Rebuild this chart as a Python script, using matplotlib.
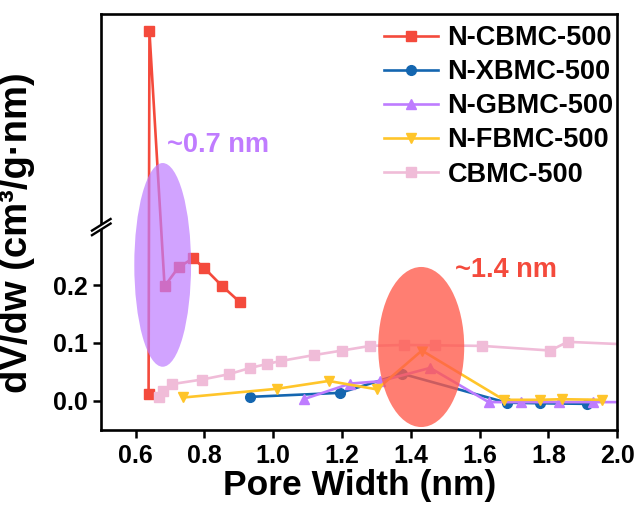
import numpy as np
import matplotlib
matplotlib.use("Agg")
import matplotlib.pyplot as plt
from matplotlib.patches import Ellipse, Polygon

plt.rcParams['font.family'] = ['Liberation Sans', 'DejaVu Sans']
plt.rcParams['font.weight'] = 'bold'

# pore size distributions (pore width in nm, dV/dw in cm3/g/nm)
x_ncbmc = [0.6375, 0.640, 0.684, 0.725, 0.767, 0.800, 0.850, 0.902]
y_ncbmc = [0.0115, 1.22, 0.198, 0.231, 0.246, 0.229, 0.199, 0.171]

x_nxbmc = [0.931, 1.195, 1.374, 1.679, 1.776, 1.912]
y_nxbmc = [0.007, 0.014, 0.047, -0.003, -0.004, -0.005]

x_ngbmc = [1.088, 1.224, 1.310, 1.456, 1.626, 1.72, 1.83, 1.93, 2.05]
y_ngbmc = [0.003, 0.030, 0.034, 0.057, -0.002, -0.002, -0.002, -0.002, -0.002]

x_nfbmc = [0.739, 1.011, 1.161, 1.301, 1.432, 1.670, 1.776, 1.839, 1.955]
y_nfbmc = [0.006, 0.021, 0.0345, 0.020, 0.087, 0.002, 0.002, 0.003, 0.002]

x_cbmc = [0.667, 0.678, 0.705, 0.793, 0.870, 0.933, 0.983, 1.022, 1.117,
          1.200, 1.282, 1.379, 1.470, 1.607, 1.805, 1.856, 2.05]
y_cbmc = [0.006, 0.017, 0.029, 0.037, 0.046, 0.057, 0.064, 0.069, 0.079,
          0.087, 0.095, 0.0966, 0.096, 0.095, 0.087, 0.102, 0.097]

labels = ['N-CBMC-500', 'N-XBMC-500', 'N-GBMC-500', 'N-FBMC-500', 'CBMC-500']
colors = ['#F44A3C', '#1466B0', '#BE7CFF', '#FFC52A', '#F0BCD8']
markers = ['s', 'o', '^', 'v', 's']

# broken y axis: linear below the break, compressed above it
y_break = 0.3
k = 0.3673


def fwd(y):
    y = np.asarray(y, dtype=float)
    return np.where(y <= y_break, y, y_break + (y - y_break) * k)


def inv(y):
    y = np.asarray(y, dtype=float)
    return np.where(y <= y_break, y, y_break + (y - y_break) / k)


fig = plt.figure(figsize=(6.41, 5.07), dpi=100)
ax = fig.add_axes([0.158, 0.152, 0.805, 0.820])
ax.set_yscale('function', functions=(fwd, inv))

series = [(x_ncbmc, y_ncbmc), (x_nxbmc, y_nxbmc), (x_ngbmc, y_ngbmc),
          (x_nfbmc, y_nfbmc), (x_cbmc, y_cbmc)]
for (xs, ys), lab, c, m in zip(series, labels, colors, markers):
    ax.plot(xs, ys, color=c, marker=m, markersize=7, lw=1.9, label=lab)

ax.set_xlim(0.5, 2.0)
ax.set_ylim(-0.05, 1.3)
ax.set_xticks([0.6, 0.8, 1.0, 1.2, 1.4, 1.6, 1.8, 2.0])
ax.set_yticks([0.0, 0.1, 0.2])
ax.set_yticklabels(['0.0', '0.1', '0.2'])
ax.minorticks_off()
ax.tick_params(direction='out', length=6, width=1.8, labelsize=18, pad=4)
for s in ax.spines.values():
    s.set_linewidth(1.9)

ax.set_xlabel('Pore Width (nm)', fontsize=25.5, fontweight='bold', labelpad=1)
ax.set_ylabel('dV/dw (cm³/g·nm)', fontsize=27.5, fontweight='bold', labelpad=2)
ax.yaxis.set_label_coords(-0.128, 0.475)

# highlight ellipses
ax.add_patch(Ellipse((0.119, 0.397), 0.110, 0.49, transform=ax.transAxes,
                     facecolor='#BE7CFF', alpha=0.7, edgecolor='none', zorder=5))
ax.add_patch(Ellipse((0.620, 0.1995), 0.1667, 0.385, transform=ax.transAxes,
                     facecolor='#FF5A4A', alpha=0.78, edgecolor='none', zorder=5))
ax.text(0.128, 0.685, '~0.7 nm', transform=ax.transAxes, color='#C07CFF',
        fontsize=19.5, fontweight='bold', va='center', ha='left')
ax.text(0.686, 0.385, '~1.4 nm', transform=ax.transAxes, color='#F44A3C',
        fontsize=19.5, fontweight='bold', va='center', ha='left')

# break marks on the left spine
yb = (fwd(y_break) - fwd(-0.05)) / (fwd(1.3) - fwd(-0.05))
dx, dy, gap = 0.018, 0.014, 0.011
ax.add_patch(Polygon([(-dx, yb - dy - gap / 2), (dx, yb + dy - gap / 2),
                      (dx, yb + dy + gap / 2), (-dx, yb - dy + gap / 2)],
                     closed=True, transform=ax.transAxes, facecolor='white',
                     edgecolor='none', clip_on=False, zorder=6))
for off in (-gap / 2, gap / 2):
    ax.plot([-dx, dx], [yb - dy + off, yb + dy + off], transform=ax.transAxes,
            color='black', lw=1.7, clip_on=False, zorder=7)

ax.legend(loc='upper right', bbox_to_anchor=(1.014, 1.0), frameon=False,
          fontsize=19.5, handlelength=2.0, handletextpad=0.35,
          labelspacing=0.3, borderaxespad=0.1, borderpad=0.3)

fig.savefig('out.png', dpi=100)
